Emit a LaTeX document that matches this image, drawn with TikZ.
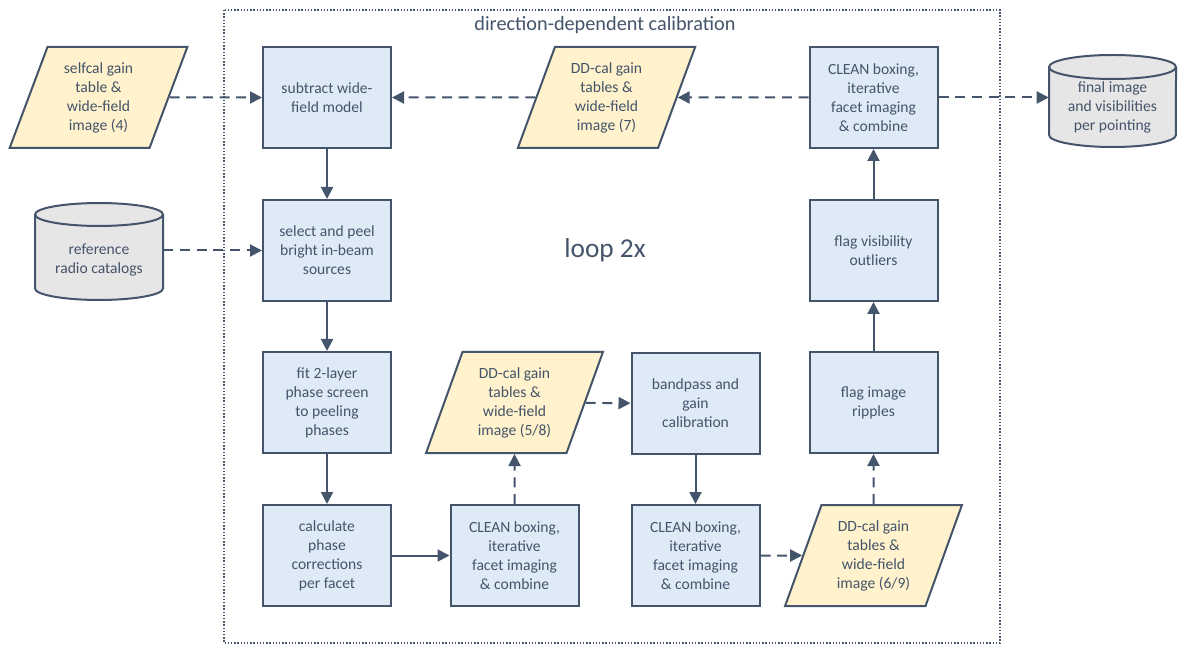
\documentclass[tikz,border=0pt]{standalone}
\usepackage{fontspec}
\setmainfont{Carlito}
\usetikzlibrary{arrows.meta,shapes.geometric}
\definecolor{ln}{HTML}{44546A}
\definecolor{bfill}{HTML}{DEEBF7}
\definecolor{yfill}{HTML}{FFF2CC}
\definecolor{gfill}{HTML}{E7E6E6}
\begin{document}
\begin{tikzpicture}[x=0.75pt,y=-0.75pt,
  every node/.style={text=ln, font=\fontsize{11.7}{14.25}\selectfont},
  proc/.style={rectangle, draw=ln, fill=bfill, line width=1.5pt, minimum width=96pt, minimum height=75.75pt, inner sep=2pt, align=center},
  data/.style={trapezium, trapezium left angle=70, trapezium right angle=110, trapezium stretches=true, minimum width=134pt, minimum height=75.75pt, draw=ln, fill=yfill, line width=1.5pt, inner sep=0pt, align=center},
  cyl/.style={draw=ln, fill=gfill, line width=1.5pt},
  ghost/.style={inner sep=0pt},
  arr/.style={draw=ln, line width=1.5pt, -{Triangle[length=9pt,width=9pt]}},
  darr/.style={arr, dash pattern=on 7.5pt off 5pt},
  frame/.style={draw=ln, line width=1.1pt, dash pattern=on 1.1pt off 1.3pt}
]
\useasboundingbox (0,0) rectangle (1178,648);
% frame
\draw[frame] (224,10) rectangle (1000,643);
\node[font=\fontsize{15.2}{18}\selectfont] (title) at (605,25) {direction-dependent calibration};
\node[font=\fontsize{20.5}{24}\selectfont] (loop) at (605,250) {loop 2x};

% cylinders
\filldraw[cyl] (35,214.5) -- (35,288.5) arc[start angle=180,end angle=360,x radius=48pt,y radius=8.6pt] -- (163,214.5) arc[start angle=0,end angle=180,x radius=48pt,y radius=8.6pt] -- cycle;
\draw[cyl, fill=none] (35,214.5) arc[start angle=180,end angle=360,x radius=48pt,y radius=8.6pt];
\node[ghost, minimum width=96pt, minimum height=72.75pt] (cat) at (99,250.5) {};
\node[align=center] (catlbl) at (99,260) {reference\\radio catalogs};

\filldraw[cyl] (1049,67) -- (1049,135) arc[start angle=180,end angle=360,x radius=47.6pt,y radius=9pt] -- (1176,67) arc[start angle=0,end angle=180,x radius=47.6pt,y radius=9pt] -- cycle;
\draw[cyl, fill=none] (1049,67) arc[start angle=180,end angle=360,x radius=47.6pt,y radius=9pt];
\node[ghost, minimum width=95.25pt, minimum height=69pt] (fin) at (1112.5,97.5) {};
\node[align=center] (finlbl) at (1112.5,107) {final image\\and visibilities\\per pointing};

% process boxes
\node[proc] (sub) at (327,97.5) {subtract wide-\\field model};
\node[proc] (sel) at (327,250.5) {select and peel\\bright in-beam\\sources};
\node[proc] (fit) at (327,402.5) {fit 2-layer\\phase screen\\to peeling\\phases};
\node[proc] (calc) at (327,555.5) {calculate\\phase\\corrections\\per facet};
\node[proc] (cl1) at (514.5,555.5) {CLEAN boxing,\\iterative\\facet imaging\\\& combine};
\node[proc] (bp) at (695.5,403.5) {bandpass and\\gain\\calibration};
\node[proc] (cl2) at (695.5,555.5) {CLEAN boxing,\\iterative\\facet imaging\\\& combine};
\node[proc] (rip) at (873.5,402.5) {flag image\\ripples};
\node[proc] (vis) at (873.5,250.5) {flag visibility\\outliers};
\node[proc] (clt) at (873.5,97.5) {CLEAN boxing,\\iterative\\facet imaging\\\& combine};

% data
\node[data] (sc) at (98.5,97.5) {selfcal gain\\table \&\\wide-field\\image (4)};
\node[data] (dd7) at (606.5,97.5) {DD-cal gain\\tables \&\\wide-field\\image (7)};
\node[data] (dd58) at (514.5,402.5) {DD-cal gain\\tables \&\\wide-field\\image (5/8)};
\node[data] (dd69) at (873.5,555.5) {DD-cal gain\\tables \&\\wide-field\\image (6/9)};

% connectors
\draw[darr] (sc) -- (sub);
\draw[darr] (cat) -- (sel);
\draw[arr] (sub) -- (sel);
\draw[arr] (sel) -- (fit);
\draw[arr] (fit) -- (calc);
\draw[arr] (calc) -- (cl1);
\draw[darr] (cl1) -- (dd58);
\draw[darr] (dd58) -- (bp);
\draw[arr] (bp) -- (cl2);
\draw[darr] (cl2) -- (dd69);
\draw[darr] (dd69) -- (rip);
\draw[arr] (rip) -- (vis);
\draw[arr] (vis) -- (clt);
\draw[darr] (clt) -- (dd7);
\draw[darr] (dd7) -- (sub);
\draw[darr] (clt) -- (fin);
\end{tikzpicture}
\end{document}
